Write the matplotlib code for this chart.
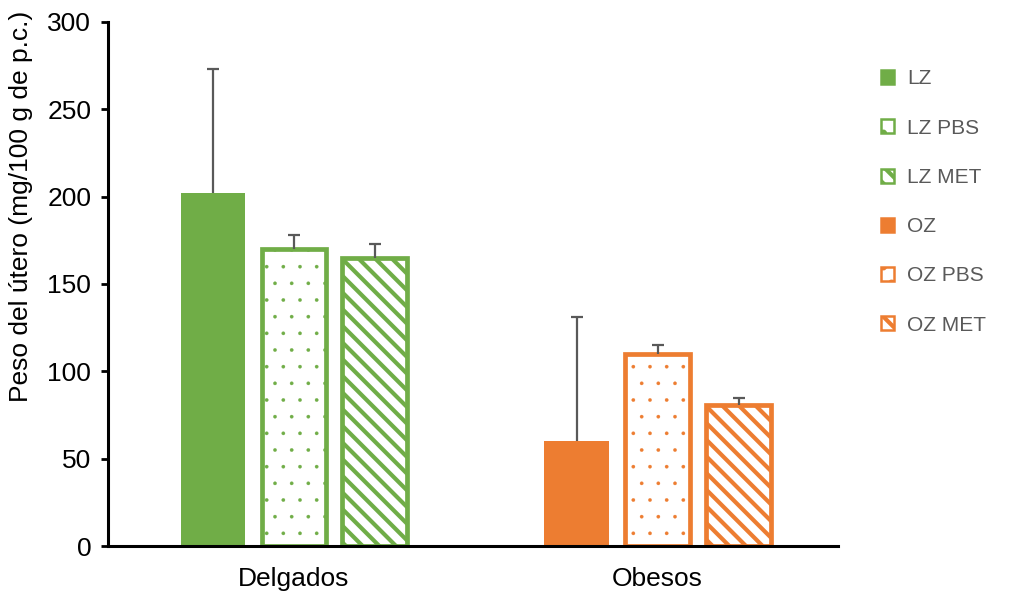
import matplotlib
matplotlib.use('Agg')
import matplotlib.pyplot as plt
import numpy as np

plt.rcParams['font.family'] = ['Liberation Sans', 'DejaVu Sans']

grupos = ['Delgados', 'Obesos']
series = ['LZ', 'LZ PBS', 'LZ MET', 'OZ', 'OZ PBS', 'OZ MET']
medias = [202, 170, 165, 60, 110, 81]
errores = [71, 8, 8, 71, 5, 4]

verde = '#70AD47'
naranja = '#ED7D31'
gris = '#595959'

fig = plt.figure(figsize=(10.13, 5.97), dpi=100)
ax = fig.add_axes([0.1066, 0.0854, 0.7204, 0.8778])

paso = 0.2225
ancho = 0.178
estilos = [
    (verde, None), (verde, '.'), (verde, '\\\\'),
    (naranja, None), (naranja, '.'), (naranja, '\\\\'),
]

handles = []
for i, (nombre, valor, err) in enumerate(zip(series, medias, errores)):
    grupo = i // 3
    k = i % 3
    x = grupo + (k - 1) * paso
    color, hatch = estilos[i]
    if hatch is None:
        plt.rcParams['hatch.linewidth'] = 1.0
        b = ax.bar(x, valor, width=ancho, color=color, edgecolor=color,
                   linewidth=0, label=nombre, zorder=2)
    else:
        plt.rcParams['hatch.linewidth'] = 0.2 if hatch == '.' else 3.0
        b = ax.bar(x, valor, width=ancho, facecolor='white', edgecolor=color,
                   hatch=hatch, linewidth=3.4, label=nombre, zorder=2)
    # solo la barra de error superior
    eb = ax.errorbar(x, valor, yerr=[[0], [err]], fmt='none', ecolor=gris,
                     elinewidth=1.6, capsize=4.5, capthick=1.6, zorder=3)
    eb[1][0].set_visible(False)
    handles.append(b)

ax.set_xlim(-0.511, 1.495)
ax.set_ylim(0, 300)
ax.set_yticks(np.arange(0, 301, 50))
ax.set_xticks([0, 1])
ax.set_xticklabels(grupos)
ax.tick_params(axis='x', length=0, labelsize=19, pad=15)
ax.tick_params(axis='y', length=5, width=2, labelsize=19, direction='out', pad=7)
ax.set_ylabel('Peso del útero (mg/100 g de p.c.)', fontsize=19)
ax.yaxis.set_label_coords(-0.103, 0.649)

for lado in ['top', 'right']:
    ax.spines[lado].set_visible(False)
for lado in ['left', 'bottom']:
    ax.spines[lado].set_linewidth(2.2)
    ax.spines[lado].set_color('black')

leg = fig.legend(handles=handles, labels=series, loc='upper left',
                 bbox_to_anchor=(0.851, 0.915), frameon=False, fontsize=15,
                 labelcolor=gris, handlelength=0.65, handleheight=0.65,
                 handletextpad=0.6, labelspacing=1.45)
for h in leg.legend_handles:
    h.set_linewidth(1.8)

fig.savefig('out.png', dpi=100)
